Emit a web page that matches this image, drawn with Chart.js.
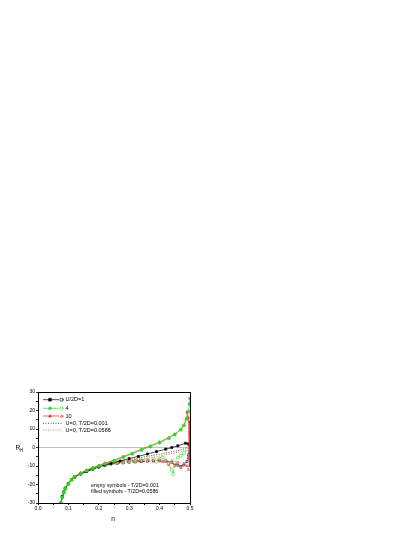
<!DOCTYPE html>
<html><head><meta charset="utf-8">
<script src="https://cdn.jsdelivr.net/npm/chart.js@4.4.1/dist/chart.umd.min.js"></script>
<style>html,body{margin:0;padding:0;background:#fff;overflow:hidden}canvas{display:block}</style>
</head><body>
<canvas id="c" width="415" height="537"></canvas>
<script>
// ---- data ----
const nBlackFilled = [0.076,0.08,0.085,0.09,0.1,0.11,0.12,0.14,0.16,0.18,0.2,0.22,0.24,0.27,0.3,0.33,0.36,0.39,0.42,0.44,0.46,0.485,0.495,0.5];
const rhBlackFilled = [-30,-26.5,-24,-22,-19.5,-17.5,-16,-14.3,-12.9,-11.6,-10.5,-9.5,-8.6,-7.3,-6,-4.8,-3.5,-2.2,-0.9,0,0.9,2.3,2.0,-2];

const nGreenFilled = [0.075,0.08,0.085,0.09,0.1,0.11,0.12,0.14,0.16,0.18,0.2,0.22,0.25,0.28,0.31,0.34,0.37,0.4,0.43,0.45,0.47,0.48,0.49,0.495,0.498,0.5];
const rhGreenFilled = [-30,-27,-24.5,-22.3,-19.7,-17.6,-16,-14,-12.5,-11.2,-10,-8.8,-7.3,-5.3,-3.4,-1.4,0.5,2.6,5,7,9.7,12,15.5,19.5,23.5,26.5];

const nRedFilled = [0.075,0.08,0.09,0.1,0.11,0.12,0.14,0.16,0.18,0.2,0.22,0.25,0.28,0.31,0.34,0.37,0.4,0.43,0.45,0.47,0.48,0.487,0.49,0.495,0.497,0.498,0.499,0.5];
const rhRedFilled = [-30,-26.8,-22,-19.4,-17.3,-15.7,-13.7,-12.2,-10.9,-9.7,-8.4,-6.9,-4.9,-3.0,-1.0,0.9,3.0,5.3,7.2,9.8,12,15.6,19.2,16,-6,14,-10,8];

const nBlackEmpty = [0.076,0.08,0.09,0.1,0.12,0.14,0.16,0.18,0.2,0.22,0.24,0.26,0.28,0.3,0.32,0.34,0.36,0.38,0.4,0.42,0.44,0.45,0.46,0.47,0.48,0.49,0.495,0.5];
const rhBlackEmpty = [-30,-26.5,-22,-19.5,-16,-14.3,-12.9,-11.7,-10.6,-9.7,-9,-8.6,-8.3,-8,-7.8,-7.6,-7.4,-7.3,-7.2,-7.4,-8,-8.8,-9.6,-10.2,-9.5,-7.5,-4,0];

const nGreenEmpty = [0.075,0.08,0.09,0.1,0.12,0.14,0.16,0.18,0.2,0.22,0.24,0.26,0.28,0.3,0.32,0.34,0.36,0.38,0.39,0.4,0.41,0.42,0.43,0.44,0.445,0.45,0.46,0.47,0.48,0.49,0.495,0.5];
const rhGreenEmpty = [-30,-27,-22.2,-19.6,-16,-14.1,-12.7,-11.4,-10.3,-9.4,-8.6,-8,-7.7,-7.4,-7.1,-6.8,-6.6,-6.3,-7.8,-6,-5.5,-7,-9,-12,-14.5,-8,-5.5,-4.5,-3,-1,0.5,2];

const nRedEmpty = [0.075,0.08,0.09,0.1,0.12,0.14,0.16,0.18,0.2,0.22,0.24,0.26,0.28,0.3,0.32,0.34,0.36,0.38,0.4,0.41,0.42,0.43,0.44,0.45,0.46,0.47,0.48,0.49,0.495,0.5];
const rhRedEmpty = [-30,-26.8,-22,-19.4,-15.8,-13.9,-12.4,-11.1,-10,-9.1,-8.4,-7.9,-7.6,-7.3,-7.1,-6.9,-6.8,-6.9,-6.6,-7.8,-7,-9.5,-7.2,-10,-8,-11,-8.5,-10,-12,-5];

const nU0 = [0.075,0.08,0.09,0.1,0.12,0.14,0.16,0.18,0.2,0.22,0.25,0.3,0.35,0.4,0.45,0.48,0.49,0.5];
const rhU0T001 = [-30,-26.8,-22.2,-19.6,-16,-14.1,-12.6,-11.4,-10.3,-9.4,-8.3,-6.7,-5.1,-3.6,-2,-0.8,-0.2,1];
const rhU0T0586 = [-30,-26.8,-22.2,-19.6,-16,-14.1,-12.6,-11.4,-10.3,-9.4,-8.4,-7.3,-6,-4.6,-3,-1.6,-1,-0.5];

const legendLabels = ['U/2D=1','4','10','U=0, T/2D=0.001','U=0, T/2D=0.0586'];
const noteLines = ['empty symbols - T/2D=0.001','filled symbols - T/2D=0.0586'];
const xTitle = 'n';
const yTitleMain = 'R';
const yTitleSub = 'H';
// --------------------------------------

const pts = (xs, ys) => xs.map((x, i) => ({x, y: ys[i]}));
const FONT = '"Liberation Sans", Arial, sans-serif';

function ds(xs, ys, color, style, filled, dash, order, radius) {
  return {
    data: pts(xs, ys), showLine: true, borderColor: color, borderWidth: 0.7,
    borderDash: dash, pointStyle: style, pointRadius: radius,
    pointBackgroundColor: filled ? color : '#fff', pointBorderColor: color,
    pointBorderWidth: 0.6, order: order
  };
}

const datasets = [
  ds(nU0, rhU0T001, '#000', false, false, [1, 1.5], 9, 0),
  ds(nU0, rhU0T0586, '#ff3030', false, false, [1, 1.5], 9, 0),
  ds(nBlackEmpty, rhBlackEmpty, '#000', 'rect', false, [3, 2], 6, 1.4),
  ds(nGreenEmpty, rhGreenEmpty, '#22e022', 'circle', false, [3, 2], 5, 1.5),
  ds(nRedEmpty, rhRedEmpty, '#ff2020', 'triangle', false, [3, 2], 4, 1.3),
  ds(nBlackFilled, rhBlackFilled, '#000', 'rect', true, [], 3, 1.5),
  ds(nRedFilled, rhRedFilled, '#ff2020', 'triangle', true, [], 2, 1.3),
  ds(nGreenFilled, rhGreenFilled, '#22e022', 'circle', true, [], 1, 1.5)
];

function marker(ctx, style, x, y, r, color, filled) {
  ctx.save();
  ctx.fillStyle = filled ? color : '#fff';
  ctx.strokeStyle = color; ctx.lineWidth = 0.6; ctx.setLineDash([]);
  ctx.beginPath();
  if (style === 'rect') ctx.rect(x - r, y - r, 2 * r, 2 * r);
  else if (style === 'circle') ctx.arc(x, y, r, 0, Math.PI * 2);
  else { ctx.moveTo(x, y - r); ctx.lineTo(x + r, y + r * 0.8); ctx.lineTo(x - r, y + r * 0.8); ctx.closePath(); }
  ctx.fill(); ctx.stroke();
  ctx.restore();
}

const deco = {
  id: 'deco',
  afterDraw(chart) {
    const ctx = chart.ctx, a = chart.chartArea;
    ctx.save();
    // frame
    ctx.strokeStyle = '#000'; ctx.lineWidth = 1; ctx.setLineDash([]);
    ctx.strokeRect(Math.round(a.left) + 0.5, Math.round(a.top) + 0.5, Math.round(a.right - a.left), Math.round(a.bottom - a.top));
    // legend
    const rows = [399.7, 408.3, 416, 423.3, 430];
    const cols = ['#000', '#22e022', '#ff2020'];
    const styles = ['rect', 'circle', 'triangle'];
    ctx.font = '5.5px ' + FONT; ctx.textBaseline = 'middle'; ctx.fillStyle = '#000';
    for (let i = 0; i < 5; i++) {
      const y = rows[i];
      ctx.lineWidth = 0.7;
      if (i < 3) {
        ctx.strokeStyle = cols[i];
        ctx.setLineDash([]);
        ctx.beginPath(); ctx.moveTo(43, y); ctx.lineTo(56, y); ctx.stroke();
        ctx.setLineDash([3, 2]);
        ctx.beginPath(); ctx.moveTo(56, y); ctx.lineTo(64, y); ctx.stroke();
        marker(ctx, styles[i], 50, y, 1.4, cols[i], true);
        marker(ctx, styles[i], 61.5, y, 1.4, cols[i], false);
      } else {
        ctx.strokeStyle = i === 3 ? '#000' : '#ff3030';
        ctx.setLineDash([1, 1.5]);
        ctx.beginPath(); ctx.moveTo(43, y); ctx.lineTo(63, y); ctx.stroke();
      }
      ctx.setLineDash([]);
      ctx.fillStyle = '#000';
      ctx.fillText(legendLabels[i], 65.5, y);
    }
    // notes
    ctx.font = '5.3px ' + FONT;
    ctx.fillText(noteLines[0], 91, 486);
    ctx.fillText(noteLines[1], 91, 492);
    // axis titles
    ctx.font = '6.5px ' + FONT; ctx.textAlign = 'center';
    ctx.fillText(xTitle, 113, 519);
    ctx.textAlign = 'left';
    ctx.fillText(yTitleMain, 15.5, 448);
    ctx.font = '4.5px ' + FONT;
    ctx.fillText(yTitleSub, 20, 450.5);
    ctx.restore();
  }
};

new Chart(document.getElementById('c'), {
  type: 'scatter',
  data: { datasets },
  options: {
    responsive: false, animation: false, devicePixelRatio: 1,
    layout: { padding: { left: 18, right: 225, top: 392, bottom: 18 } },
    plugins: { legend: { display: false }, tooltip: { enabled: false } },
    scales: {
      x: {
        type: 'linear', min: 0, max: 0.5,
        afterFit: s => { s.height = 16; },
        border: { display: true, color: '#000', width: 1 },
        grid: { drawOnChartArea: false, tickLength: 2, color: '#000', tickColor: '#000' },
        ticks: {
          stepSize: 0.05, autoSkip: false, maxRotation: 0, padding: 1,
          color: '#000', font: { size: 5, family: FONT },
          callback: v => Math.abs(v * 10 - Math.round(v * 10)) < 1e-6 ? v.toFixed(1) : ''
        }
      },
      y: {
        type: 'linear', min: -30, max: 30,
        afterFit: s => { s.width = 20; },
        border: { display: true, color: '#000', width: 1 },
        grid: {
          drawOnChartArea: true, tickLength: 2, tickColor: '#000',
          color: c => (c.tick && c.tick.value === 0) ? '#b0b0b0' : 'rgba(0,0,0,0)', lineWidth: 0.8
        },
        ticks: {
          stepSize: 5, autoSkip: false, padding: 1,
          color: '#000', font: { size: 5, family: FONT },
          callback: v => v % 10 === 0 ? String(v) : ''
        }
      }
    }
  },
  plugins: [deco]
});
</script>
</body></html>
